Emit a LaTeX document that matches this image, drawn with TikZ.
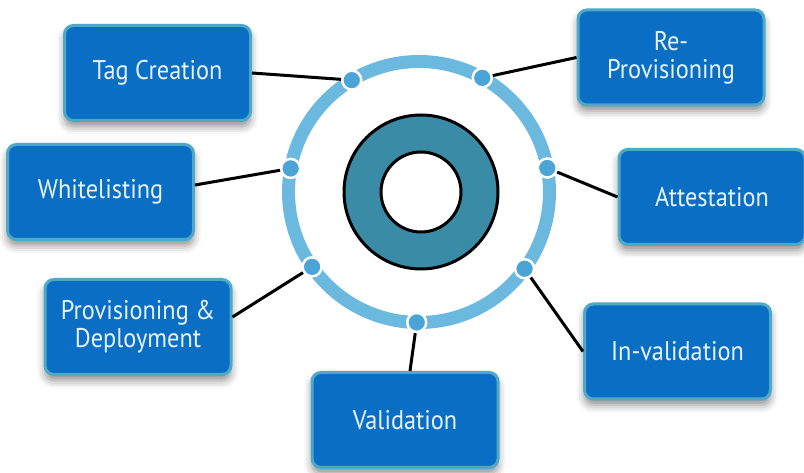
\documentclass[tikz,border=0pt]{standalone}
\usepackage{fontspec}
\newfontfamily\boxfont[FakeStretch=0.9]{PT Sans}
\usetikzlibrary{shadows.blur}
\definecolor{boxblue}{HTML}{0A6FC4}
\definecolor{boxrim}{HTML}{4EA8C8}
\definecolor{ringblue}{HTML}{6CB9DF}
\definecolor{dotblue}{HTML}{4BA4D6}
\definecolor{coreteal}{HTML}{3A8BA6}
\definecolor{labelwhite}{HTML}{E8F3FB}

\tikzstyle{stage}=[draw=boxrim, line width=3pt, fill=boxblue, rounded corners=9pt, minimum width=186pt, minimum height=95pt, text=labelwhite, align=center, font={\boxfont\fontsize{27}{28}\selectfont}, blur shadow={shadow xshift=0pt, shadow yshift=-6pt, shadow blur radius=8pt, shadow opacity=45}]
\tikzstyle{port}=[circle, draw=white, line width=2.5pt, fill=dotblue, minimum size=19pt, inner sep=0pt]
\tikzstyle{link}=[line width=3pt, black]

\begin{document}
\begin{tikzpicture}[x=1pt,y=1pt]
    \useasboundingbox (0,0) rectangle (804,473);
    \coordinate (hub) at (419,281);

    % stages round the cycle
    \node [stage] (tag) at (157.5,400) {Tag Creation};
    \node [stage] (reprov) at (671,415.5) {Re-\\Provisioning};
    \node [stage] (white) at (100.5,281) {Whitelisting};
    \node [stage] (attest) at (712,276) {Attestation};
    \node [stage] (prov) at (138,146) {Provisioning \&\\Deployment};
    \node [stage] (inval) at (677.5,121.5) {In-validation};
    \node [stage] (valid) at (405,53) {Validation};

    % ring and core
    \draw [ringblue, line width=13pt] (hub) circle (130.5);
    \draw [line width=3pt, fill=coreteal, even odd rule] ([xshift=2pt]hub) circle (77) ([xshift=2pt]hub) circle (40);

    % ports on the ring
    \node [port] (ptag) at ([shift={(121:130.5)}]hub) {};
    \node [port] (preprov) at ([shift={(61:130.5)}]hub) {};
    \node [port] (pattest) at ([shift={(10.6:130.5)}]hub) {};
    \node [port] (pwhite) at ([shift={(169.6:130.5)}]hub) {};
    \node [port] (pprov) at ([shift={(215:130.5)}]hub) {};
    \node [port] (pinval) at ([shift={(324:130.5)}]hub) {};
    \node [port] (pvalid) at ([shift={(269:130.5)}]hub) {};

    \draw [link] (ptag) -- (tag.east);
    \draw [link] (preprov) -- (reprov.west);
    \draw [link] (pwhite) -- ([yshift=7pt]white.east);
    \draw [link] (pattest) -- (attest.west);
    \draw [link] (pprov) -- ([yshift=10pt]prov.east);
    \draw [link] (pinval) -- (inval.west);
    \draw [link] (pvalid) -- ([xshift=5pt]valid.north);
\end{tikzpicture}
\end{document}
